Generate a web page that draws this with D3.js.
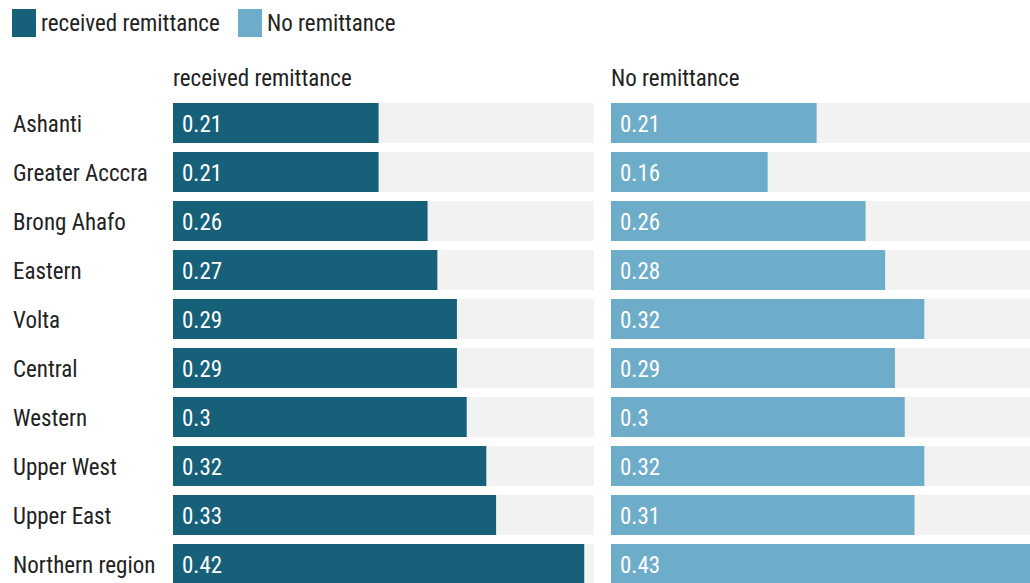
<!DOCTYPE html>
<html>
<head>
<meta charset="utf-8">
<script src="https://cdn.jsdelivr.net/npm/d3@7"></script>
<style>
  html, body { margin: 0; padding: 0; background: #ffffff; }
  svg { display: block; font-family: "Roboto Condensed", Roboto, "Noto Sans", sans-serif; }
</style>
</head>
<body>
<svg id="chart" width="1030" height="583"></svg>
<script>
const regions = ["Ashanti", "Greater Acccra", "Brong Ahafo", "Eastern", "Volta",
                 "Central", "Western", "Upper West", "Upper East", "Northern region"];
const receivedValues = [0.21, 0.21, 0.26, 0.27, 0.29, 0.29, 0.3, 0.32, 0.33, 0.42];
const noRemitValues  = [0.21, 0.16, 0.26, 0.28, 0.32, 0.29, 0.3, 0.32, 0.31, 0.43];
const seriesNames = ["received remittance", "No remittance"];
const seriesColors = ["#17607a", "#6eadc9"];

const svg = d3.select("#chart");

function label(g, x, y, text, opts = {}) {
  return g.append("text")
    .attr("x", x).attr("y", y)
    .attr("font-size", opts.size || 23)
    .attr("font-weight", 400)
    .attr("fill", opts.fill || "#222")
    .text(text);
}

// Legend
const legend = svg.append("g");
const legendX = [12, 238];
seriesNames.forEach((name, i) => {
  legend.append("rect")
    .attr("x", legendX[i]).attr("y", 9).attr("width", 24).attr("height", 28)
    .attr("fill", seriesColors[i]);
  label(legend, legendX[i] + 29, 31, name);
});

// Row layout: 40px bars on a 49px step
const y = d3.scaleBand()
  .domain(regions)
  .range([103, 103 + 49 * regions.length - 9])
  .paddingInner(9 / 49)
  .paddingOuter(0);

// Region names
const names = svg.append("g");
regions.forEach(r => label(names, 13, y(r) + y.bandwidth() / 2 + 9, r));

const xMax = 0.43;
const panels = [
  { left: 173, values: receivedValues },
  { left: 611, values: noRemitValues }
];

panels.forEach((p, i) => {
  const x = d3.scaleLinear().domain([0, xMax]).range([p.left, p.left + 421]);
  const g = svg.append("g");
  label(g, p.left, 86, seriesNames[i]);

  g.selectAll("rect.bg").data(regions).join("rect")
    .attr("class", "bg")
    .attr("x", x(0)).attr("y", d => y(d))
    .attr("width", x(xMax) - x(0)).attr("height", y.bandwidth())
    .attr("fill", "#f2f2f2");

  g.selectAll("rect.bar").data(p.values).join("rect")
    .attr("class", "bar")
    .attr("x", x(0)).attr("y", (d, j) => y(regions[j]))
    .attr("width", d => x(d) - x(0)).attr("height", y.bandwidth())
    .attr("fill", seriesColors[i]);

  p.values.forEach((v, j) => {
    label(g, x(0) + 9, y(regions[j]) + y.bandwidth() / 2 + 9, String(v), { fill: "#ffffff" });
  });
});
</script>
</body>
</html>
